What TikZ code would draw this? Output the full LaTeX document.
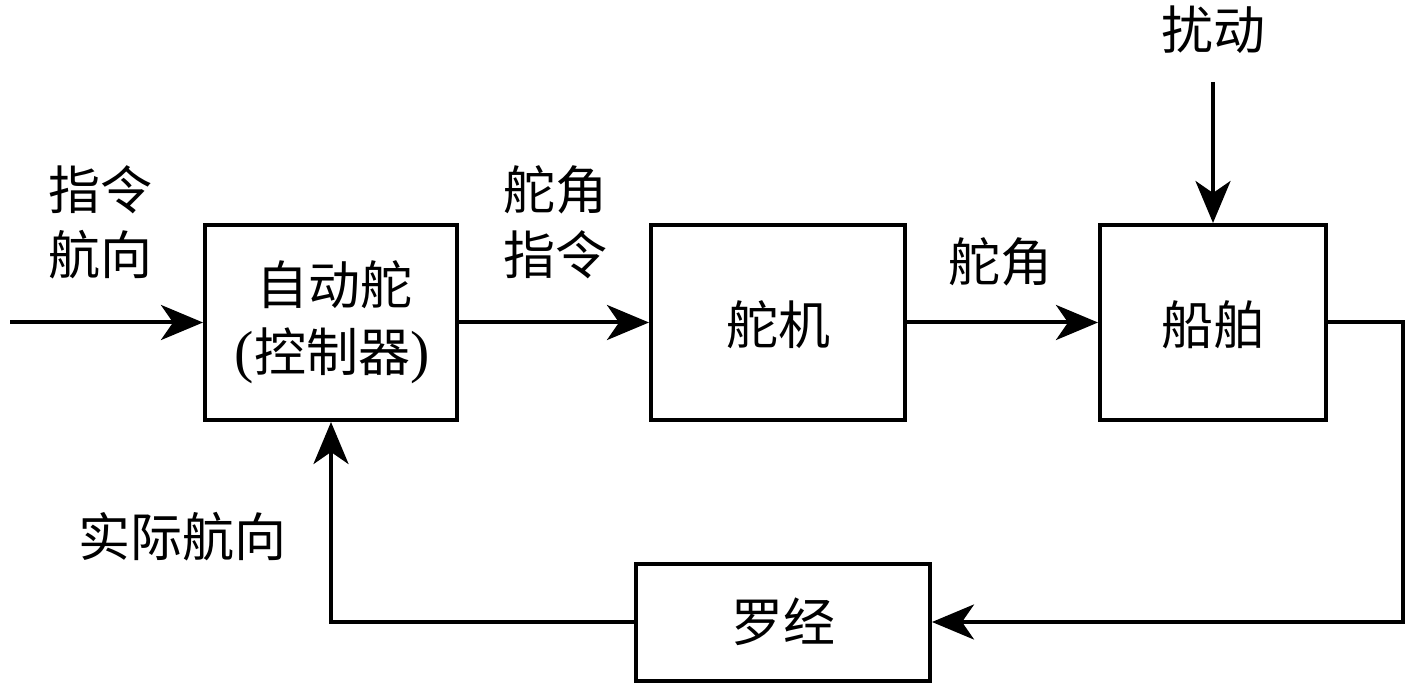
\documentclass[tikz,border=0pt]{standalone}
\usepackage{fontspec}
\setmainfont{Noto Sans CJK SC}[Scale=1]
\newfontfamily\parenfont{Liberation Serif}
\usetikzlibrary{arrows.meta}
\begin{document}
\begin{tikzpicture}[x=1pt,y=-1pt,
  blk/.style={draw,line width=4pt,line join=miter,minimum width=#1,minimum height=195pt,inner sep=0pt},
  lbl/.style={font=\fontsize{52}{64}\selectfont,inner sep=0pt,align=center},
  conn/.style={line width=4pt,-{Stealth[length=42pt,width=35pt,inset=12pt]}},
  wire/.style={line width=4pt}]
\useasboundingbox (0,0) rectangle (1417,684);
\node[blk=252pt] (auto) at (331,322.5) {};
\node[blk=254pt] (servo) at (778,322.5) {};
\node[blk=226pt] (ship) at (1213,322.5) {};
\node[draw,line width=4pt,minimum width=294pt,minimum height=117pt,inner sep=0pt] (comp) at (783,622) {};
\node[lbl] (t1) at (334,285) {自动舵};
\node[lbl] (t2) at (332,356) {{\parenfont\fontsize{58}{64}\selectfont(}控制器{\parenfont\fontsize{58}{64}\selectfont)}};
\node[lbl] (t3) at (778,325) {舵机};
\node[lbl] (t4) at (1213,325) {船舶};
\node[lbl] (t5) at (783,622) {罗经};
\node[lbl] (in1) at (100,190) {指令};
\node[lbl] (in2) at (100,255) {航向};
\node[lbl] (c1) at (555,190) {舵角};
\node[lbl] (c2) at (555,255) {指令};
\node[lbl] (r1) at (1000,262) {舵角};
\node[lbl] (dist) at (1213,30) {扰动};
\node[lbl] (fb) at (182,537) {实际航向};
\coordinate (start) at (10,322.5);
\coordinate (dtop) at (1213,82);
\coordinate (rc) at (1403,322.5);
\coordinate (rb) at (1403,622);
\coordinate (lb) at (331,622);
\draw[conn] (start) -- (auto.west);
\draw[conn] (auto.east) -- (servo.west);
\draw[conn] (servo.east) -- (ship.west);
\draw[conn] (dtop) -- (ship.north);
\draw[conn] (ship.east) -- (rc) -- (rb) -- (comp.east);
\draw[conn] (comp.west) -- (lb) -- (auto.south);
\end{tikzpicture}
\end{document}
